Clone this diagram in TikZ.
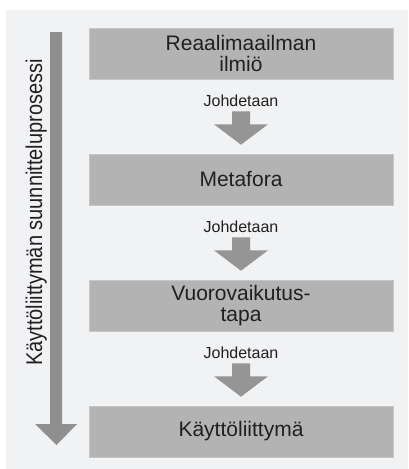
\documentclass[tikz,border=0pt]{standalone}
\usepackage{fontspec}
\usepackage{graphicx}
\setmainfont{Liberation Sans}
\usetikzlibrary{calc}
\definecolor{panelgray}{HTML}{F1F2F4}
\definecolor{boxgray}{HTML}{B3B3B3}
\definecolor{boxedge}{HTML}{C6C6C6}
\definecolor{arrowgray}{HTML}{959595}
\definecolor{bigarrow}{HTML}{8F8F8F}
\definecolor{txt}{HTML}{231F20}
\tikzset{
  stagebox/.style={fill=boxgray, draw=boxedge, line width=0.6pt, minimum width=304pt, minimum height=51pt,
    inner sep=0pt, align=center, text=txt, font=\fontsize{21}{21.5}\selectfont},
  derivelabel/.style={text=txt, font=\fontsize{16}{18}\selectfont, inner sep=0pt},
  sidelabel/.style={text=txt, font=\fontsize{20}{22}\selectfont, inner sep=0pt, rotate=90, anchor=base},
  blockarrow/.style={fill=arrowgray, draw=none}
}
\newcommand{\derivearrow}[2]{%
  \fill[blockarrow] ($(#1.south)+(-9,32)$) -- ($(#1.south)+(9,32)$) -- ($(#1.south)+(9,45)$)
    -- ($(#1.south)+(27,45)$) -- ($(#2.north)+(0,-9)$) -- ($(#1.south)+(-27,45)$)
    -- ($(#1.south)+(-9,45)$) -- cycle;}
\begin{document}
\begin{tikzpicture}[x=1pt,y=-1pt]
\useasboundingbox (0,0) rectangle (408,469);
\fill[panelgray] (6,10) rectangle (408,469);
% stages
\node[stagebox] (b1) at (241,53.5) {Reaalimaailman\\ilmiö};
\node[stagebox] (b2) at (241,179.5) {Metafora};
\node[stagebox] (b3) at (241,305.5) {Vuorovaikutus-\\tapa};
\node[stagebox] (b4) at (241,431.5) {Käyttöliittymä};
% labels
\node[derivelabel] (l1) at ($(b1.south)+(0,21)$) {Johdetaan};
\node[derivelabel] (l2) at ($(b2.south)+(0,21)$) {Johdetaan};
\node[derivelabel] (l3) at ($(b3.south)+(0,21)$) {Johdetaan};
% arrows
\derivearrow{b1}{b2}
\derivearrow{b2}{b3}
\derivearrow{b3}{b4}
% side process arrow
\fill[bigarrow] (50,32) -- (62,32) -- (62,424) -- (77,424) -- (56.5,445) -- (35,424) -- (50,424) -- cycle;
\node[sidelabel] (side) at (42,212.5) {\scalebox{1}[1.14]{Käyttöliittymän suunnitteluprosessi}};
\end{tikzpicture}
\end{document}
